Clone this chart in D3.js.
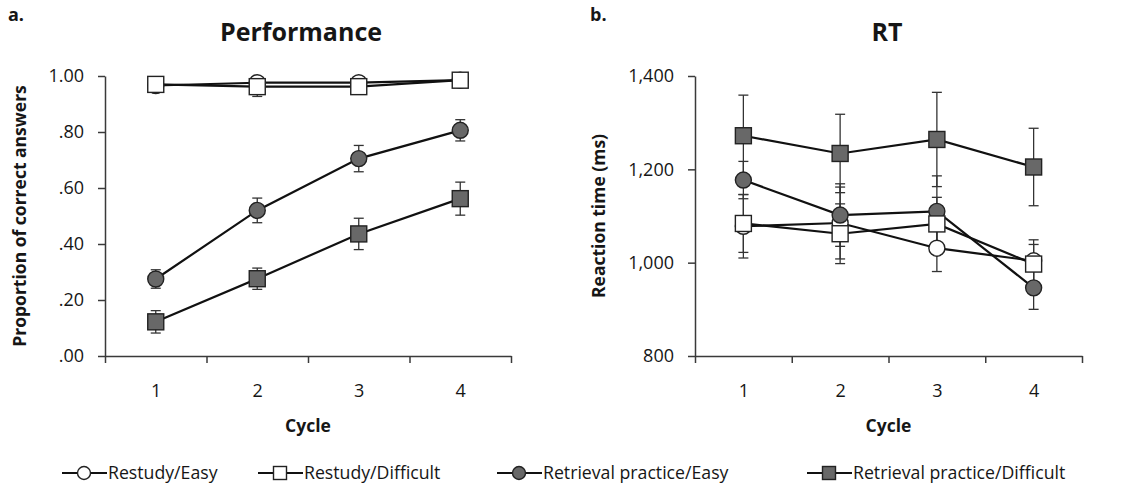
<!DOCTYPE html>
<html>
<head>
<meta charset="utf-8">
<script src="https://cdn.jsdelivr.net/npm/d3@7"></script>
<style>
  body { margin: 0; background: #fff; }
  svg { display: block; font-family: 'Open Sans', sans-serif; }
</style>
</head>
<body>
<svg id="chart" width="1126" height="485"></svg>
<script>
// Categories and labels
const cycles = [1, 2, 3, 4];
const seriesNames = ['Restudy/Easy', 'Restudy/Difficult', 'Retrieval practice/Easy', 'Retrieval practice/Difficult'];
const perfTicks = [0, 0.2, 0.4, 0.6, 0.8, 1.0];
const perfTickLabels = ['.00', '.20', '.40', '.60', '.80', '1.00'];
const rtTicks = [800, 1000, 1200, 1400];
const rtTickLabels = ['800', '1,000', '1,200', '1,400'];

// Performance (proportion correct), means and error bars
const perfRestudyEasy = [0.966, 0.976, 0.976, 0.985];
const perfRestudyEasyErr = [0.010, 0.010, 0.010, 0.010];
const perfRestudyDiff = [0.970, 0.962, 0.962, 0.985];
const perfRestudyDiffErr = [0.010, 0.035, 0.010, 0.010];
const perfRetrievalEasy = [0.275, 0.520, 0.705, 0.806];
const perfRetrievalEasyErr = [0.033, 0.044, 0.047, 0.038];
const perfRetrievalDiff = [0.122, 0.276, 0.436, 0.562];
const perfRetrievalDiffErr = [0.040, 0.038, 0.056, 0.059];

// Reaction time (ms), means and error bars
const rtRestudyEasy = [1078, 1085, 1031, 1004];
const rtRestudyEasyErr = [68, 77, 50, 45];
const rtRestudyDiff = [1084, 1062, 1083, 997];
const rtRestudyDiffErr = [62, 64, 57, 42];
const rtRetrievalEasy = [1177, 1102, 1110, 946];
const rtRetrievalEasyErr = [40, 67, 76, 46];
const rtRetrievalDiff = [1272, 1234, 1264, 1205];
const rtRetrievalDiffErr = [87, 84, 101, 83];

const svg = d3.select('#chart');
const textColor = '#161616';
const axisColor = '#3a3a3a';
const darkFill = '#686868';

// marker style per series: shape + fill
const styles = [
  { shape: 'circle', fill: '#fff' },
  { shape: 'square', fill: '#fff' },
  { shape: 'circle', fill: darkFill },
  { shape: 'square', fill: darkFill }
];
// drawing order so squares cover circles like in the original
const drawOrder = [0, 2, 1, 3];

function drawMarker(g, shape, fill, cx, cy, size) {
  if (shape === 'circle') {
    g.append('circle')
      .attr('cx', cx).attr('cy', cy).attr('r', size / 2)
      .attr('fill', fill).attr('stroke', '#222').attr('stroke-width', 1.4);
  } else {
    g.append('rect')
      .attr('x', cx - size / 2).attr('y', cy - size / 2)
      .attr('width', size).attr('height', size)
      .attr('fill', fill).attr('stroke', '#222').attr('stroke-width', 1.4);
  }
}

function drawPanel(opts) {
  const { left, right, top, bottom, domain, ticks, tickLabels, means, errs, title, titleX, letter, letterX, yLabel, yLabelX } = opts;

  const x = d3.scaleLinear().domain([0.5, 4.5]).range([left, right]);
  const y = d3.scaleLinear().domain(domain).range([bottom, top]);

  const g = svg.append('g');

  // y axis
  const yAxis = g.append('g')
    .attr('transform', `translate(${left},0)`)
    .call(d3.axisLeft(y).tickValues(ticks)
      .tickFormat((d, i) => tickLabels[i])
      .tickSize(7).tickSizeOuter(0).tickPadding(14));

  // x axis: ticks between categories
  const xAxis = g.append('g')
    .attr('transform', `translate(0,${bottom})`)
    .call(d3.axisBottom(x).tickValues([0.5, 1.5, 2.5, 3.5, 4.5])
      .tickFormat('').tickSize(7).tickSizeOuter(0));

  // x labels at category centers
  const xLabels = g.append('g')
    .attr('transform', `translate(0,${bottom})`)
    .call(d3.axisBottom(x).tickValues(cycles).tickFormat(d3.format('d'))
      .tickSize(0).tickPadding(28));
  xLabels.select('.domain').remove();

  [yAxis, xAxis, xLabels].forEach(a => {
    a.selectAll('path, line').attr('stroke', axisColor).attr('stroke-width', 1.5);
    a.selectAll('text').attr('font-size', 18).attr('fill', textColor)
      .attr('font-family', "'Open Sans', sans-serif");
  });

  // error bars
  drawOrder.forEach(si => {
    cycles.forEach((c, i) => {
      const cx = x(c);
      const y1 = y(means[si][i] + errs[si][i]);
      const y2 = y(means[si][i] - errs[si][i]);
      g.append('line').attr('x1', cx).attr('x2', cx).attr('y1', y1).attr('y2', y2)
        .attr('stroke', '#333').attr('stroke-width', 1.3);
      [y1, y2].forEach(yy => {
        g.append('line').attr('x1', cx - 5).attr('x2', cx + 5).attr('y1', yy).attr('y2', yy)
          .attr('stroke', '#333').attr('stroke-width', 1.3);
      });
    });
  });

  // lines
  const line = d3.line().x((d, i) => x(cycles[i])).y(d => y(d));
  drawOrder.forEach(si => {
    g.append('path').datum(means[si])
      .attr('fill', 'none').attr('stroke', '#111').attr('stroke-width', 2.2)
      .attr('d', line);
  });

  // markers
  drawOrder.forEach(si => {
    cycles.forEach((c, i) => {
      drawMarker(g, styles[si].shape, styles[si].fill, x(c), y(means[si][i]), 16);
    });
  });

  // titles and labels
  svg.append('text').attr('x', titleX).attr('y', 41).attr('text-anchor', 'middle')
    .attr('font-size', 25).attr('font-weight', 'bold').attr('fill', textColor).text(title);
  svg.append('text').attr('x', letterX).attr('y', 21)
    .attr('font-size', 18).attr('font-weight', 'bold').attr('fill', textColor).text(letter);
  svg.append('text').attr('x', (left + right) / 2).attr('y', 432).attr('text-anchor', 'middle')
    .attr('font-size', 17.5).attr('font-weight', 'bold').attr('fill', textColor).text('Cycle');
  svg.append('text')
    .attr('transform', `translate(${yLabelX},${(top + bottom) / 2}) rotate(-90)`)
    .attr('text-anchor', 'middle').attr('dy', '0.35em')
    .attr('font-size', 17.5).attr('font-weight', 'bold').attr('fill', textColor).text(yLabel);
}

drawPanel({
  left: 105, right: 511, top: 76, bottom: 356, domain: [0, 1],
  ticks: perfTicks, tickLabels: perfTickLabels,
  means: [perfRestudyEasy, perfRestudyDiff, perfRetrievalEasy, perfRetrievalDiff],
  errs: [perfRestudyEasyErr, perfRestudyDiffErr, perfRetrievalEasyErr, perfRetrievalDiffErr],
  title: 'Performance', titleX: 301, letter: 'a.', letterX: 8,
  yLabel: 'Proportion of correct answers', yLabelX: 20
});

drawPanel({
  left: 695, right: 1082, top: 76, bottom: 356, domain: [800, 1400],
  ticks: rtTicks, tickLabels: rtTickLabels,
  means: [rtRestudyEasy, rtRestudyDiff, rtRetrievalEasy, rtRetrievalDiff],
  errs: [rtRestudyEasyErr, rtRestudyDiffErr, rtRetrievalEasyErr, rtRetrievalDiffErr],
  title: 'RT', titleX: 887, letter: 'b.', letterX: 590,
  yLabel: 'Reaction time (ms)', yLabelX: 599
});

// legend
const legendX = [62, 258, 497, 807];
const legendY = 473;
const legend = svg.append('g');
seriesNames.forEach((name, i) => {
  const lx = legendX[i];
  legend.append('line').attr('x1', lx).attr('x2', lx + 45).attr('y1', legendY).attr('y2', legendY)
    .attr('stroke', '#111').attr('stroke-width', 2);
  drawMarker(legend, styles[i].shape, styles[i].fill, lx + 22, legendY, 13);
  legend.append('text').attr('x', lx + 46).attr('y', legendY).attr('dy', '0.35em')
    .attr('font-size', 17.7).attr('fill', textColor).text(name);
});
</script>
</body>
</html>
